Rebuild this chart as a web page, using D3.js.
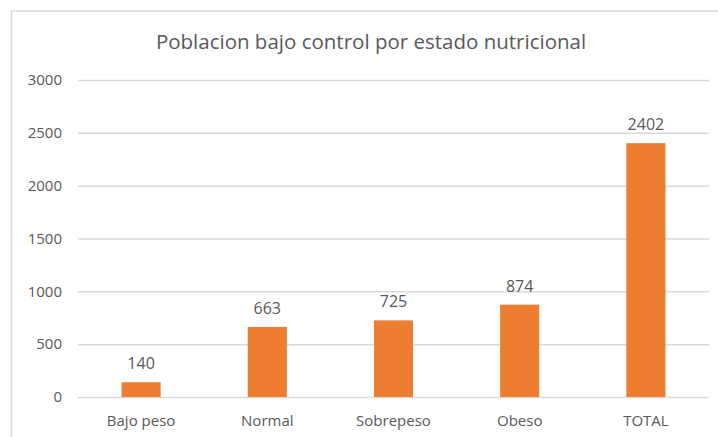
<html lang="es">
<head>
  <meta charset="UTF-8"/>
  <title>Poblacion bajo control</title>
  <script src="https://d3js.org/d3.v7.min.js"></script>
</head>
<style>
body {
  margin: 0;
  background: #fff;
  font-family: 'Open Sans', sans-serif;
}

svg {
  display: block;
}

text {
  fill: #595959;
}

.grid line {
  stroke: #d9d9d9;
  stroke-width: 1.5;
}

.grid path {
  stroke-width: 0;
}

.bar {
  fill: #ed7d31;
}

text.title {
  font-size: 20.5px;
}

text.tick-label {
  font-size: 15px;
}

text.value {
  font-size: 16px;
}
</style>
<body>
<svg width="718" height="437"></svg>
<script>
    const categories = ['Bajo peso', 'Normal', 'Sobrepeso', 'Obeso', 'TOTAL'];
    const values = [140, 663, 725, 874, 2402];
    const yTicks = [0, 500, 1000, 1500, 2000, 2500, 3000];

    const svg = d3.select('svg');

    // chart area border (right/bottom edges fall outside the picture)
    svg.append('rect')
      .attr('x', 11.5)
      .attr('y', 11)
      .attr('width', 730)
      .attr('height', 440)
      .attr('fill', 'none')
      .attr('stroke', '#d9d9d9')
      .attr('stroke-width', 1.5);

    const plotLeft = 78, plotRight = 709, plotTop = 80, plotBottom = 397;

    const xScale = d3.scaleBand()
      .domain(categories)
      .range([plotLeft, plotRight]);

    const yScale = d3.scaleLinear()
      .domain([0, 3000])
      .range([plotBottom, plotTop]);

    // horizontal grid lines
    svg.append('g')
      .attr('class', 'grid')
      .attr('transform', `translate(${plotLeft}, 0)`)
      .call(d3.axisLeft(yScale)
        .tickValues(yTicks)
        .tickSize(-(plotRight - plotLeft))
        .tickFormat(''));

    svg.selectAll('.ylab')
      .data(yTicks)
      .enter()
      .append('text')
      .attr('class', 'tick-label')
      .attr('x', 62)
      .attr('y', (d) => yScale(d))
      .attr('dy', '0.35em')
      .attr('text-anchor', 'end')
      .text((d) => d);

    const barW = xScale.bandwidth() * 0.31;

    svg.selectAll('.bar')
      .data(values)
      .enter()
      .append('rect')
      .attr('class', 'bar')
      .attr('x', (d, i) => xScale(categories[i]) + (xScale.bandwidth() - barW) / 2)
      .attr('y', (d) => yScale(d))
      .attr('width', barW)
      .attr('height', (d) => yScale(0) - yScale(d));

    svg.selectAll('.value')
      .data(values)
      .enter()
      .append('text')
      .attr('class', 'value')
      .attr('x', (d, i) => xScale(categories[i]) + xScale.bandwidth() / 2)
      .attr('y', (d) => yScale(d) - 13)
      .attr('text-anchor', 'middle')
      .text((d) => d);

    svg.selectAll('.xlab')
      .data(categories)
      .enter()
      .append('text')
      .attr('class', 'tick-label')
      .attr('x', (d) => xScale(d) + xScale.bandwidth() / 2)
      .attr('y', 426)
      .attr('text-anchor', 'middle')
      .text((d) => d);

    svg.append('text')
      .attr('class', 'title')
      .attr('x', 371)
      .attr('y', 49)
      .attr('text-anchor', 'middle')
      .text('Poblacion bajo control por estado nutricional');
</script>
</body>
</html>
